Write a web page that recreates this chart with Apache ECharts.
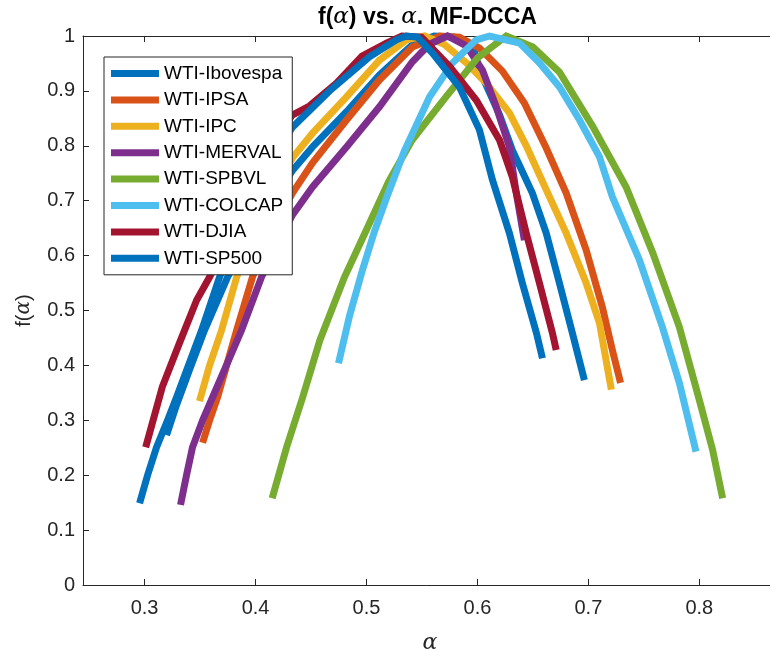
<!DOCTYPE html>
<html>
<head>
<meta charset="utf-8">
<script src="https://cdn.jsdelivr.net/npm/echarts@6/dist/echarts.min.js"></script>
<style>
html, body { margin: 0; padding: 0; background: #fff; }
#chart { width: 770px; height: 653px; }
</style>
</head>
<body>
<div id="chart"></div>
<script>
// f(alpha) spectra
var iboX = [0.3198, 0.3288, 0.3405, 0.354, 0.3748, 0.395, 0.415, 0.4333, 0.4514, 0.482, 0.5117, 0.5414, 0.561, 0.579, 0.597, 0.6018, 0.62, 0.6315, 0.6495, 0.662, 0.6739, 0.6856, 0.6964]
var iboY = [0.273, 0.328, 0.392, 0.464, 0.561, 0.635, 0.70, 0.755, 0.798, 0.862, 0.929, 0.984, 1.0, 0.998, 0.975, 0.938, 0.856, 0.792, 0.714, 0.641, 0.55, 0.459, 0.373]

var ipsaX = [0.3523, 0.3586, 0.3658, 0.383, 0.3973, 0.4126, 0.4333, 0.4514, 0.482, 0.5117, 0.5414, 0.566, 0.5838, 0.6018, 0.6225, 0.6423, 0.662, 0.68, 0.698, 0.7126, 0.7216, 0.729]
var ipsaY = [0.259, 0.30, 0.342, 0.464, 0.561, 0.637, 0.714, 0.769, 0.847, 0.92, 0.98, 1.0, 0.998, 0.978, 0.936, 0.878, 0.796, 0.714, 0.61, 0.506, 0.428, 0.368]

var ipcX = [0.3495, 0.3586, 0.3694, 0.383, 0.4036, 0.4333, 0.4514, 0.482, 0.5117, 0.536, 0.5523, 0.570, 0.590, 0.608, 0.6288, 0.644, 0.662, 0.680, 0.698, 0.71, 0.7207]
var ipcY = [0.335, 0.40, 0.464, 0.561, 0.665, 0.778, 0.823, 0.889, 0.956, 0.993, 1.0, 0.985, 0.951, 0.914, 0.86, 0.80, 0.72, 0.641, 0.55, 0.477, 0.356]

var mervalX = [0.3324, 0.3378, 0.3432, 0.3523, 0.3613, 0.3874, 0.4054, 0.4216, 0.4333, 0.4514, 0.482, 0.5117, 0.5414, 0.5568, 0.573, 0.590, 0.6045, 0.617, 0.6288, 0.635, 0.6423]
var mervalY = [0.146, 0.20, 0.251, 0.30, 0.342, 0.464, 0.561, 0.628, 0.674, 0.725, 0.798, 0.871, 0.953, 0.985, 1.0, 0.982, 0.938, 0.871, 0.798, 0.714, 0.628]

var spbvlX = [0.415, 0.428, 0.4425, 0.458, 0.48, 0.50, 0.52, 0.541, 0.572, 0.60, 0.626, 0.65, 0.674, 0.704, 0.734, 0.758, 0.782, 0.80, 0.812, 0.821]
var spbvlY = [0.158, 0.251, 0.342, 0.446, 0.56, 0.647, 0.735, 0.81, 0.89, 0.96, 1.0, 0.98, 0.934, 0.835, 0.725, 0.605, 0.47, 0.337, 0.246, 0.158]

var colcapX = [0.4748, 0.4847, 0.4964, 0.507, 0.518, 0.534, 0.5568, 0.5775, 0.599, 0.611, 0.638, 0.656, 0.674, 0.692, 0.71, 0.7216, 0.746, 0.7667, 0.782, 0.797]
var colcapY = [0.404, 0.49, 0.574, 0.643, 0.705, 0.79, 0.889, 0.951, 0.993, 1.0, 0.987, 0.951, 0.907, 0.847, 0.78, 0.707, 0.592, 0.47, 0.368, 0.243]

var djiaX = [0.301, 0.316, 0.3315, 0.347, 0.3586, 0.38, 0.405, 0.433, 0.4486, 0.473, 0.496, 0.518, 0.532, 0.5495, 0.5748, 0.599, 0.62, 0.6315, 0.644, 0.6559, 0.6676, 0.671]
var djiaY = [0.251, 0.361, 0.441, 0.519, 0.561, 0.65, 0.77, 0.856, 0.8725, 0.914, 0.9636, 0.987, 1.0, 0.998, 0.945, 0.883, 0.81, 0.743, 0.641, 0.55, 0.459, 0.428]

var sp500X = [0.2955, 0.3027, 0.3108, 0.3207, 0.3288, 0.3514, 0.3676, 0.39, 0.41, 0.4333, 0.4667, 0.5027, 0.527, 0.536, 0.546, 0.5595, 0.5838, 0.6018, 0.6135, 0.6288, 0.6405, 0.6532, 0.6586]
var sp500Y = [0.149, 0.20, 0.251, 0.30, 0.342, 0.464, 0.561, 0.67, 0.76, 0.834, 0.90, 0.962, 0.993, 1.0, 0.998, 0.969, 0.907, 0.829, 0.738, 0.641, 0.55, 0.459, 0.413]

var names = ['WTI-Ibovespa', 'WTI-IPSA', 'WTI-IPC', 'WTI-MERVAL', 'WTI-SPBVL', 'WTI-COLCAP', 'WTI-DJIA', 'WTI-SP500']
var xs = [iboX, ipsaX, ipcX, mervalX, spbvlX, colcapX, djiaX, sp500X]
var ys = [iboY, ipsaY, ipcY, mervalY, spbvlY, colcapY, djiaY, sp500Y]
var colors = ['#0072BD', '#D95319', '#EDB120', '#7E2F8E', '#77AC30', '#4DBEEE', '#A2142F', '#0072BD']
var xTicks = [0.3, 0.4, 0.5, 0.6, 0.7, 0.8]

function pairs (xa, ya) {
  var out = []
  for (var i = 0; i < xa.length; i++) out.push([xa[i], ya[i]])
  return out
}

var series = names.map(function (n, i) {
  return {
    name: n,
    type: 'line',
    data: pairs(xs[i], ys[i]),
    symbol: 'none',
    clip: false,
    lineStyle: { width: 7, color: colors[i], cap: 'butt', join: 'miter' },
    itemStyle: { color: colors[i] }
  }
})

var axisColor = '#262626'
var chart = echarts.init(document.getElementById('chart'))
chart.setOption({
  animation: false,
  backgroundColor: '#fff',
  color: colors,
  title: {
    text: '{b|f(}{a|α}{b|) vs. }{a|α}{b|. MF-DCCA}',
    left: 313,
    top: 1,
    textStyle: {
      rich: {
        b: { fontFamily: 'Liberation Sans, Arial', fontWeight: 'bold', fontSize: 23, color: '#000' },
        a: { fontFamily: 'DejaVu Serif, serif', fontStyle: 'italic', fontWeight: 'normal', fontSize: 23, color: '#000' }
      }
    }
  },
  legend: {
    orient: 'vertical',
    left: 104,
    top: 57,
    icon: 'rect',
    itemWidth: 48,
    itemHeight: 7,
    itemGap: 7.4,
    padding: [7, 9, 7, 7],
    backgroundColor: '#fff',
    borderColor: axisColor,
    borderWidth: 1,
    textStyle: { fontFamily: 'Liberation Sans, Arial', fontSize: 19, lineHeight: 19, color: '#000' },
    data: names
  },
  grid: { left: 83, top: 36, width: 694, height: 549, containLabel: false, outerBoundsMode: 'none' },
  xAxis: [{
    type: 'value',
    min: 0.2445,
    max: 0.87,
    name: 'α',
    nameLocation: 'middle',
    nameGap: 47,
    nameTextStyle: { fontFamily: 'DejaVu Serif, serif', fontStyle: 'italic', fontSize: 22, color: axisColor },
    axisLine: { lineStyle: { color: axisColor, width: 1 } },
    axisTick: { inside: true, length: 6, customValues: xTicks, lineStyle: { color: axisColor } },
    axisLabel: {
      customValues: xTicks,
      margin: 13,
      fontFamily: 'Liberation Sans, Arial',
      fontSize: 20,
      color: axisColor,
      formatter: function (v) { return String(+v.toFixed(1)) }
    },
    splitLine: { show: false }
  }, {
    type: 'value',
    position: 'top',
    min: 0.2445,
    max: 0.87,
    axisLine: { show: true, lineStyle: { color: axisColor, width: 1 } },
    axisTick: { inside: true, length: 6, customValues: xTicks, lineStyle: { color: axisColor } },
    axisLabel: { show: false },
    splitLine: { show: false }
  }],
  yAxis: {
    type: 'value',
    min: 0,
    max: 1,
    interval: 0.1,
    name: '{r|f(}{a|α}{r|)}',
    nameLocation: 'middle',
    nameGap: 49,
    nameRotate: 90,
    nameTextStyle: {
      rich: {
        r: { fontFamily: 'Liberation Sans, Arial', fontSize: 20, color: axisColor },
        a: { fontFamily: 'DejaVu Serif, serif', fontStyle: 'italic', fontSize: 20, color: axisColor }
      }
    },
    axisLine: { show: true, lineStyle: { color: axisColor, width: 1 } },
    axisTick: { inside: true, length: 6, lineStyle: { color: axisColor } },
    axisLabel: {
      margin: 8,
      fontFamily: 'Liberation Sans, Arial',
      fontSize: 20,
      color: axisColor,
      formatter: function (v) { return String(+v.toFixed(1)) }
    },
    splitLine: { show: false }
  },
  series: series
})
</script>
</body>
</html>
